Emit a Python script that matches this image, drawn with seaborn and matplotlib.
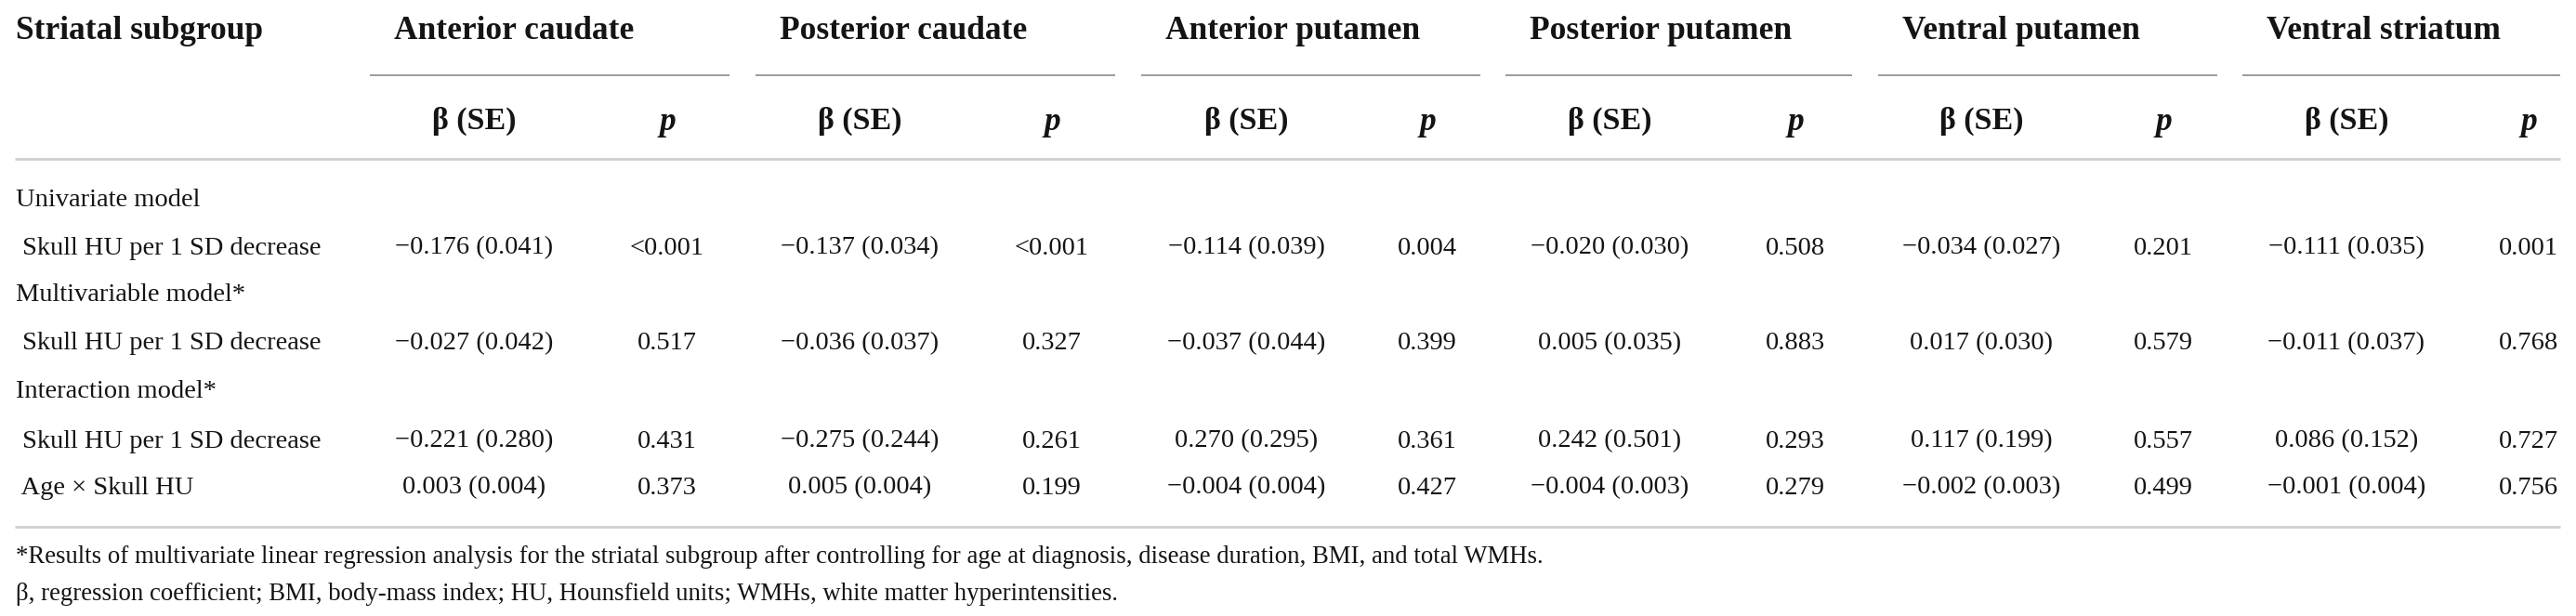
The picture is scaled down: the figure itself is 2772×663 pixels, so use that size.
import seaborn as sns
import matplotlib.pyplot as plt

# table content
regions = ["Anterior caudate", "Posterior caudate", "Anterior putamen",
           "Posterior putamen", "Ventral putamen", "Ventral striatum"]

uni_beta = ["\u22120.176 (0.041)", "\u22120.137 (0.034)", "\u22120.114 (0.039)",
            "\u22120.020 (0.030)", "\u22120.034 (0.027)", "\u22120.111 (0.035)"]
uni_p = ["<0.001", "<0.001", "0.004", "0.508", "0.201", "0.001"]

multi_beta = ["\u22120.027 (0.042)", "\u22120.036 (0.037)", "\u22120.037 (0.044)",
              "0.005 (0.035)", "0.017 (0.030)", "\u22120.011 (0.037)"]
multi_p = ["0.517", "0.327", "0.399", "0.883", "0.579", "0.768"]

inter_beta = ["\u22120.221 (0.280)", "\u22120.275 (0.244)", "0.270 (0.295)",
              "0.242 (0.501)", "0.117 (0.199)", "0.086 (0.152)"]
inter_p = ["0.431", "0.261", "0.361", "0.293", "0.557", "0.727"]

age_beta = ["0.003 (0.004)", "0.005 (0.004)", "\u22120.004 (0.004)",
            "\u22120.004 (0.003)", "\u22120.002 (0.003)", "\u22120.001 (0.004)"]
age_p = ["0.373", "0.199", "0.427", "0.279", "0.499", "0.756"]

footnotes = [
    "*Results of multivariate linear regression analysis for the striatal subgroup after "
    "controlling for age at diagnosis, disease duration, BMI, and total WMHs.",
    "\u03b2, regression coefficient; BMI, body-mass index; HU, Hounsfield units; "
    "WMHs, white matter hyperintensities.",
]

sns.set_theme(style="white")
plt.rcParams["font.family"] = ["Liberation Serif", "DejaVu Serif"]

W, H = 2772, 663
fig = plt.figure(figsize=(W / 100, H / 100), dpi=100)
ax = fig.add_axes([0, 0, 1, 1])
ax.set_xlim(0, W)
ax.set_ylim(H, 0)
ax.axis("off")

# layout (pixels)
ul_start = [398, 813, 1228, 1620, 2021, 2413]
ul_end = [785, 1200, 1593, 1993, 2386, 2755]
beta_x = [510, 925, 1341, 1732, 2132, 2525]
p_x = [718, 1132, 1536, 1932, 2328, 2721]
body_fs = 20.5
head_fs = 25.5
foot_fs = 19.3
ink = "#141414"

ax.text(17, 33, "Striatal subgroup", fontsize=head_fs, fontweight="bold",
        ha="left", va="center", color=ink)
for i, name in enumerate(regions):
    ax.text(ul_start[i] + 26, 33, name, fontsize=head_fs, fontweight="bold",
            ha="left", va="center", color=ink)
    ax.plot([ul_start[i], ul_end[i]], [81, 81], color="#8a8a8a", lw=1.2,
            solid_capstyle="butt")
    ax.text(beta_x[i], 130, "\u03b2 (SE)", fontsize=head_fs - 1, fontweight="bold",
            ha="center", va="center", color=ink)
    ax.text(p_x[i], 132, "p", fontsize=head_fs, fontweight="bold", style="italic",
            ha="center", va="center", color=ink)

ax.plot([16, 2755], [171, 171], color="#cfcfcf", lw=2.0, solid_capstyle="butt")
ax.plot([16, 2755], [567, 567], color="#cfcfcf", lw=2.0, solid_capstyle="butt")

sections = [
    (215, "Univariate model", None, None),
    (267, " Skull HU per 1 SD decrease", uni_beta, uni_p),
    (317, "Multivariable model*", None, None),
    (370, " Skull HU per 1 SD decrease", multi_beta, multi_p),
    (422, "Interaction model*", None, None),
    (475, " Skull HU per 1 SD decrease", inter_beta, inter_p),
    (525, " Age \u00d7 Skull HU", age_beta, age_p),
]
for y, label, betas, ps in sections:
    ax.text(17, y, label, fontsize=body_fs, ha="left", va="center", color=ink)
    if betas is None:
        continue
    for i in range(len(regions)):
        ax.text(beta_x[i], y, betas[i], fontsize=body_fs, ha="center",
                va="center", color=ink)
        ax.text(p_x[i], y, ps[i], fontsize=body_fs, ha="center",
                va="center", color=ink)

ax.text(17, 600, footnotes[0], fontsize=foot_fs, ha="left", va="center", color=ink)
ax.text(17, 640, footnotes[1], fontsize=foot_fs, ha="left", va="center", color=ink)

fig.savefig("out.png", dpi=100, facecolor="white")
